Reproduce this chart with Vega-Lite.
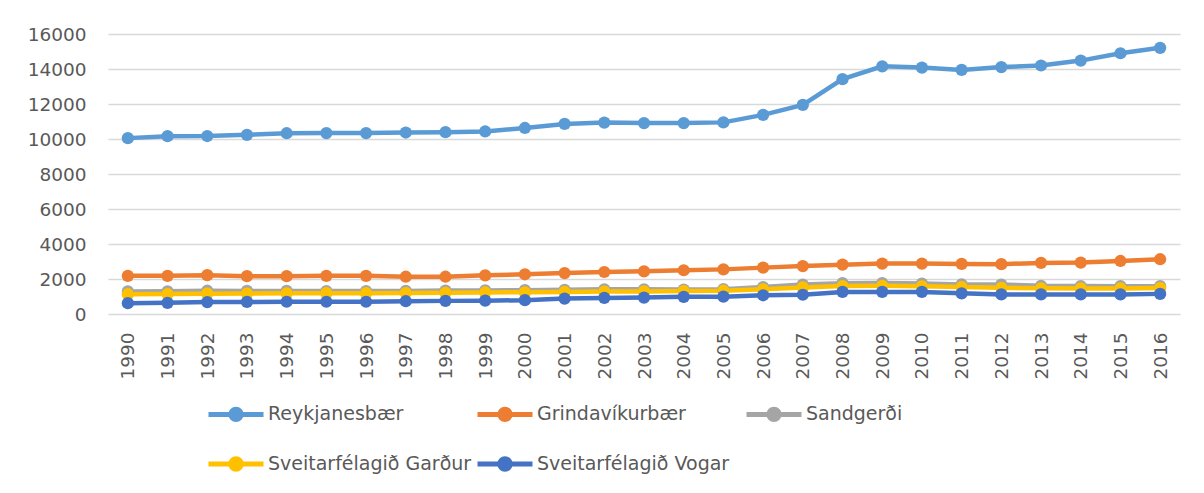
{
  "$schema": "https://vega.github.io/schema/vega-lite/v6.json",
  "width": 1072,
  "height": 280,
  "autosize": {"type": "none"},
  "padding": {"left": 108, "top": 34, "right": 24, "bottom": 179},
  "background": "white",
  "config": {
    "view": {"stroke": null},
    "font": "DejaVu Sans"
  },
  "datasets": {
    "pop": [
      {"year": "1990", "series": "Reykjanesbær", "value": 10050},
      {"year": "1991", "series": "Reykjanesbær", "value": 10160},
      {"year": "1992", "series": "Reykjanesbær", "value": 10170},
      {"year": "1993", "series": "Reykjanesbær", "value": 10240},
      {"year": "1994", "series": "Reykjanesbær", "value": 10330},
      {"year": "1995", "series": "Reykjanesbær", "value": 10340},
      {"year": "1996", "series": "Reykjanesbær", "value": 10340},
      {"year": "1997", "series": "Reykjanesbær", "value": 10370},
      {"year": "1998", "series": "Reykjanesbær", "value": 10390},
      {"year": "1999", "series": "Reykjanesbær", "value": 10430},
      {"year": "2000", "series": "Reykjanesbær", "value": 10630},
      {"year": "2001", "series": "Reykjanesbær", "value": 10860},
      {"year": "2002", "series": "Reykjanesbær", "value": 10940},
      {"year": "2003", "series": "Reykjanesbær", "value": 10910},
      {"year": "2004", "series": "Reykjanesbær", "value": 10910},
      {"year": "2005", "series": "Reykjanesbær", "value": 10950},
      {"year": "2006", "series": "Reykjanesbær", "value": 11380},
      {"year": "2007", "series": "Reykjanesbær", "value": 11950},
      {"year": "2008", "series": "Reykjanesbær", "value": 13420},
      {"year": "2009", "series": "Reykjanesbær", "value": 14150},
      {"year": "2010", "series": "Reykjanesbær", "value": 14080},
      {"year": "2011", "series": "Reykjanesbær", "value": 13950},
      {"year": "2012", "series": "Reykjanesbær", "value": 14110},
      {"year": "2013", "series": "Reykjanesbær", "value": 14200},
      {"year": "2014", "series": "Reykjanesbær", "value": 14480},
      {"year": "2015", "series": "Reykjanesbær", "value": 14900},
      {"year": "2016", "series": "Reykjanesbær", "value": 15210},
      {"year": "1990", "series": "Grindavíkurbær", "value": 2180},
      {"year": "1991", "series": "Grindavíkurbær", "value": 2180},
      {"year": "1992", "series": "Grindavíkurbær", "value": 2220},
      {"year": "1993", "series": "Grindavíkurbær", "value": 2160},
      {"year": "1994", "series": "Grindavíkurbær", "value": 2160},
      {"year": "1995", "series": "Grindavíkurbær", "value": 2180},
      {"year": "1996", "series": "Grindavíkurbær", "value": 2180},
      {"year": "1997", "series": "Grindavíkurbær", "value": 2130},
      {"year": "1998", "series": "Grindavíkurbær", "value": 2130},
      {"year": "1999", "series": "Grindavíkurbær", "value": 2210},
      {"year": "2000", "series": "Grindavíkurbær", "value": 2270},
      {"year": "2001", "series": "Grindavíkurbær", "value": 2340},
      {"year": "2002", "series": "Grindavíkurbær", "value": 2400},
      {"year": "2003", "series": "Grindavíkurbær", "value": 2440},
      {"year": "2004", "series": "Grindavíkurbær", "value": 2500},
      {"year": "2005", "series": "Grindavíkurbær", "value": 2550},
      {"year": "2006", "series": "Grindavíkurbær", "value": 2650},
      {"year": "2007", "series": "Grindavíkurbær", "value": 2740},
      {"year": "2008", "series": "Grindavíkurbær", "value": 2820},
      {"year": "2009", "series": "Grindavíkurbær", "value": 2880},
      {"year": "2010", "series": "Grindavíkurbær", "value": 2880},
      {"year": "2011", "series": "Grindavíkurbær", "value": 2860},
      {"year": "2012", "series": "Grindavíkurbær", "value": 2850},
      {"year": "2013", "series": "Grindavíkurbær", "value": 2920},
      {"year": "2014", "series": "Grindavíkurbær", "value": 2940},
      {"year": "2015", "series": "Grindavíkurbær", "value": 3030},
      {"year": "2016", "series": "Grindavíkurbær", "value": 3130},
      {"year": "1990", "series": "Sandgerði", "value": 1290},
      {"year": "1991", "series": "Sandgerði", "value": 1300},
      {"year": "1992", "series": "Sandgerði", "value": 1330},
      {"year": "1993", "series": "Sandgerði", "value": 1320},
      {"year": "1994", "series": "Sandgerði", "value": 1320},
      {"year": "1995", "series": "Sandgerði", "value": 1310},
      {"year": "1996", "series": "Sandgerði", "value": 1310},
      {"year": "1997", "series": "Sandgerði", "value": 1320},
      {"year": "1998", "series": "Sandgerði", "value": 1340},
      {"year": "1999", "series": "Sandgerði", "value": 1350},
      {"year": "2000", "series": "Sandgerði", "value": 1360},
      {"year": "2001", "series": "Sandgerði", "value": 1380},
      {"year": "2002", "series": "Sandgerði", "value": 1410},
      {"year": "2003", "series": "Sandgerði", "value": 1410},
      {"year": "2004", "series": "Sandgerði", "value": 1400},
      {"year": "2005", "series": "Sandgerði", "value": 1420},
      {"year": "2006", "series": "Sandgerði", "value": 1540},
      {"year": "2007", "series": "Sandgerði", "value": 1680},
      {"year": "2008", "series": "Sandgerði", "value": 1760},
      {"year": "2009", "series": "Sandgerði", "value": 1770},
      {"year": "2010", "series": "Sandgerði", "value": 1740},
      {"year": "2011", "series": "Sandgerði", "value": 1690},
      {"year": "2012", "series": "Sandgerði", "value": 1680},
      {"year": "2013", "series": "Sandgerði", "value": 1610},
      {"year": "2014", "series": "Sandgerði", "value": 1600},
      {"year": "2015", "series": "Sandgerði", "value": 1590},
      {"year": "2016", "series": "Sandgerði", "value": 1590},
      {"year": "1990", "series": "Sveitarfélagið Garður", "value": 1130},
      {"year": "1991", "series": "Sveitarfélagið Garður", "value": 1140},
      {"year": "1992", "series": "Sveitarfélagið Garður", "value": 1160},
      {"year": "1993", "series": "Sveitarfélagið Garður", "value": 1170},
      {"year": "1994", "series": "Sveitarfélagið Garður", "value": 1180},
      {"year": "1995", "series": "Sveitarfélagið Garður", "value": 1190},
      {"year": "1996", "series": "Sveitarfélagið Garður", "value": 1190},
      {"year": "1997", "series": "Sveitarfélagið Garður", "value": 1200},
      {"year": "1998", "series": "Sveitarfélagið Garður", "value": 1210},
      {"year": "1999", "series": "Sveitarfélagið Garður", "value": 1230},
      {"year": "2000", "series": "Sveitarfélagið Garður", "value": 1240},
      {"year": "2001", "series": "Sveitarfélagið Garður", "value": 1260},
      {"year": "2002", "series": "Sveitarfélagið Garður", "value": 1280},
      {"year": "2003", "series": "Sveitarfélagið Garður", "value": 1290},
      {"year": "2004", "series": "Sveitarfélagið Garður", "value": 1310},
      {"year": "2005", "series": "Sveitarfélagið Garður", "value": 1330},
      {"year": "2006", "series": "Sveitarfélagið Garður", "value": 1410},
      {"year": "2007", "series": "Sveitarfélagið Garður", "value": 1520},
      {"year": "2008", "series": "Sveitarfélagið Garður", "value": 1600},
      {"year": "2009", "series": "Sveitarfélagið Garður", "value": 1610},
      {"year": "2010", "series": "Sveitarfélagið Garður", "value": 1580},
      {"year": "2011", "series": "Sveitarfélagið Garður", "value": 1540},
      {"year": "2012", "series": "Sveitarfélagið Garður", "value": 1500},
      {"year": "2013", "series": "Sveitarfélagið Garður", "value": 1470},
      {"year": "2014", "series": "Sveitarfélagið Garður", "value": 1460},
      {"year": "2015", "series": "Sveitarfélagið Garður", "value": 1460},
      {"year": "2016", "series": "Sveitarfélagið Garður", "value": 1480},
      {"year": "1990", "series": "Sveitarfélagið Vogar", "value": 620},
      {"year": "1991", "series": "Sveitarfélagið Vogar", "value": 640},
      {"year": "1992", "series": "Sveitarfélagið Vogar", "value": 680},
      {"year": "1993", "series": "Sveitarfélagið Vogar", "value": 690},
      {"year": "1994", "series": "Sveitarfélagið Vogar", "value": 700},
      {"year": "1995", "series": "Sveitarfélagið Vogar", "value": 700},
      {"year": "1996", "series": "Sveitarfélagið Vogar", "value": 700},
      {"year": "1997", "series": "Sveitarfélagið Vogar", "value": 730},
      {"year": "1998", "series": "Sveitarfélagið Vogar", "value": 750},
      {"year": "1999", "series": "Sveitarfélagið Vogar", "value": 760},
      {"year": "2000", "series": "Sveitarfélagið Vogar", "value": 790},
      {"year": "2001", "series": "Sveitarfélagið Vogar", "value": 880},
      {"year": "2002", "series": "Sveitarfélagið Vogar", "value": 920},
      {"year": "2003", "series": "Sveitarfélagið Vogar", "value": 940},
      {"year": "2004", "series": "Sveitarfélagið Vogar", "value": 980},
      {"year": "2005", "series": "Sveitarfélagið Vogar", "value": 990},
      {"year": "2006", "series": "Sveitarfélagið Vogar", "value": 1070},
      {"year": "2007", "series": "Sveitarfélagið Vogar", "value": 1100},
      {"year": "2008", "series": "Sveitarfélagið Vogar", "value": 1260},
      {"year": "2009", "series": "Sveitarfélagið Vogar", "value": 1260},
      {"year": "2010", "series": "Sveitarfélagið Vogar", "value": 1260},
      {"year": "2011", "series": "Sveitarfélagið Vogar", "value": 1180},
      {"year": "2012", "series": "Sveitarfélagið Vogar", "value": 1120},
      {"year": "2013", "series": "Sveitarfélagið Vogar", "value": 1120},
      {"year": "2014", "series": "Sveitarfélagið Vogar", "value": 1120},
      {"year": "2015", "series": "Sveitarfélagið Vogar", "value": 1120},
      {"year": "2016", "series": "Sveitarfélagið Vogar", "value": 1150}
    ]
  },
  "data": {"name": "pop"},
  "mark": {
    "type": "line",
    "strokeWidth": 4.5,
    "point": {"filled": true, "size": 150, "opacity": 1}
  },
  "encoding": {
    "x": {
      "field": "year",
      "type": "ordinal",
      "title": null,
      "axis": {
        "labelAngle": -90,
        "labelFontSize": 18.5,
        "labelColor": "#595959",
        "labelPadding": 18,
        "ticks": false,
        "domain": false,
        "grid": false
      }
    },
    "y": {
      "field": "value",
      "type": "quantitative",
      "title": null,
      "scale": {"domain": [0, 16000], "nice": false},
      "axis": {
        "values": [0, 2000, 4000, 6000, 8000, 10000, 12000, 14000, 16000],
        "format": "d",
        "labelFontSize": 18.5,
        "labelColor": "#595959",
        "labelPadding": 22,
        "ticks": false,
        "tickSize": 0,
        "domain": false,
        "grid": true,
        "gridColor": "#D9D9D9",
        "gridWidth": 1.5
      }
    },
    "color": {
      "field": "series",
      "type": "nominal",
      "sort": ["Reykjanesbær", "Grindavíkurbær", "Sandgerði", "Sveitarfélagið Garður", "Sveitarfélagið Vogar"],
      "scale": {
        "domain": ["Reykjanesbær", "Grindavíkurbær", "Sandgerði", "Sveitarfélagið Garður", "Sveitarfélagið Vogar"],
        "range": ["#5B9BD5", "#ED7D31", "#A5A5A5", "#FFC000", "#4472C4"]
      },
      "legend": {
        "title": null,
        "orient": "none",
        "legendX": 98,
        "legendY": 350,
        "direction": "horizontal",
        "columns": 3,
        "gridAlign": "all",
        "columnPadding": -5,
        "rowPadding": 4,
        "symbolType": "M-1,0L1,0M-0.19,0A0.19,0.19,0,1,1,0.19,0A0.19,0.19,0,1,1,-0.19,0Z",
        "symbolSize": 3025,
        "symbolStrokeWidth": 5,
        "symbolOpacity": 1,
        "labelFontSize": 19,
        "labelColor": "#595959",
        "labelOffset": 2,
        "labelLimit": 400
      }
    }
  }
}
